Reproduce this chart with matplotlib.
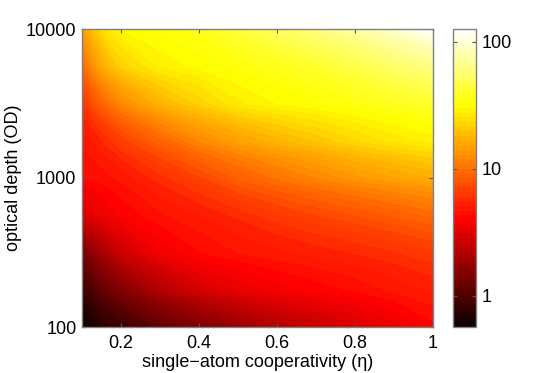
import numpy as np
import matplotlib
matplotlib.use("Agg")
import matplotlib.pyplot as plt

plt.rcParams['font.family'] = ['Liberation Sans', 'DejaVu Sans']

# grid
eta = [0.1, 0.15, 0.2, 0.3, 0.4, 0.5, 0.6, 0.7, 0.8, 0.9, 1.0]
od = [100, 178, 316, 562, 1000, 1778, 3162, 5623, 10000]

# values (colour scale), one row per optical depth
row_100 = [0.57, 0.72, 0.85, 1.15, 1.45, 1.8, 2.2, 2.6, 3.0, 3.5, 4.2]
row_178 = [0.85, 1.15, 1.5, 2.2, 2.9, 3.4, 3.8, 4.1, 4.4, 4.8, 5.2]
row_316 = [1.4, 2.0, 2.7, 3.7, 4.3, 4.7, 5.0, 5.3, 5.6, 6.0, 6.5]
row_562 = [3.0, 3.5, 4.0, 4.6, 5.1, 5.7, 6.4, 7.1, 7.8, 8.6, 9.5]
row_1000 = [4.3, 4.5, 4.8, 5.8, 7.0, 8.6, 10.2, 11.8, 13.5, 15.0, 16.5]
row_1778 = [4.8, 5.5, 6.7, 9.0, 12.0, 14.8, 17.5, 20.0, 23.0, 26.0, 28.5]
row_3162 = [6.0, 9.0, 12.0, 17.5, 22.0, 27.0, 30.0, 32.5, 35.0, 38.0, 41.0]
row_5623 = [9.5, 16.0, 22.0, 28.0, 31.0, 34.0, 37.0, 41.0, 47.0, 55.0, 63.0]
row_10000 = [14.0, 24.0, 30.0, 34.0, 37.0, 44.0, 53.0, 62.0, 74.0, 95.0, 126.0]

Z = np.array([row_100, row_178, row_316, row_562, row_1000,
              row_1778, row_3162, row_5623, row_10000])
X, Y = np.meshgrid(eta, od)
logZ = np.log10(Z)

fig = plt.figure(figsize=(5.45, 3.73), dpi=100)
ax = fig.add_axes([82/545, 46/373, 351/545, 298/373])
cax = fig.add_axes([453/545, 46/373, 23/545, 298/373])

levels = np.linspace(logZ.min(), logZ.max(), 65)
cs = ax.contourf(X, Y, logZ, levels=levels, cmap='hot')
ax.set_yscale('log')
ax.set_xlim(0.1, 1)
ax.set_ylim(100, 10000)

ax.set_xticks([0.2, 0.4, 0.6, 0.8, 1.0])
ax.set_xticklabels(['0.2', '0.4', '0.6', '0.8', '1'])
ax.set_yticks([100, 1000, 10000])
ax.set_yticklabels(['100', '1000', '10000'])
ax.yaxis.set_minor_locator(matplotlib.ticker.NullLocator())
ax.tick_params(direction='in', length=3, width=0.8, color='#555555',
               top=True, right=True, labelsize=13, pad=4)
ax.tick_params(axis='x', pad=6)
for s in ax.spines.values():
    s.set_color('#808080')
    s.set_linewidth(1)

ax.set_xlabel('single\u2212atom cooperativity (\u03b7)', fontsize=13, labelpad=1)
ax.set_ylabel('optical depth (OD)', fontsize=13, labelpad=3)

cb = fig.colorbar(cs, cax=cax, ticks=[0, 1, 2])
cb.ax.set_yticklabels(['1', '10', '100'])
cb.ax.tick_params(direction='in', length=3, width=0.8, color='#555555',
                  left=True, right=True, labelsize=13, pad=4)
cb.outline.set_edgecolor('#808080')
cb.outline.set_linewidth(1)

fig.savefig('out.png', dpi=100)
